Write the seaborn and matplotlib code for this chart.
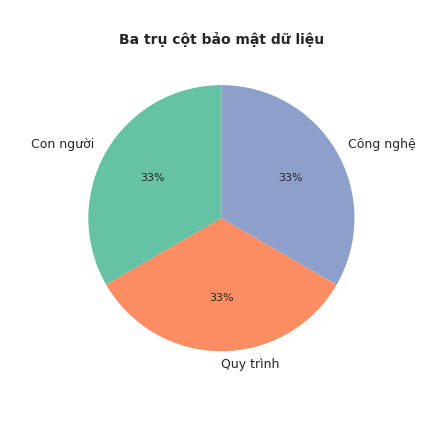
import seaborn as sns
import matplotlib.pyplot as plt

# Three pillars of data security
labels = ['Con người', 'Quy trình', 'Công nghệ']
values = [1, 1, 1]

sns.set_theme(style='white')
plt.rcParams['font.family'] = ['DejaVu Sans']

colors = sns.color_palette('Set2', 3)

fig, ax = plt.subplots(figsize=(4.32, 4.32), dpi=100)
wedges, texts, autotexts = ax.pie(values, labels=labels, colors=colors,
                                  autopct='%1.0f%%', startangle=90,
                                  wedgeprops={'linewidth': 0},
                                  textprops={'fontsize': 9, 'color': '.15'})
for t in autotexts:
    t.set_fontsize(8)
ax.set_title('Ba trụ cột bảo mật dữ liệu', fontsize=10, fontweight='bold')

fig.savefig('out.png', dpi=100)
